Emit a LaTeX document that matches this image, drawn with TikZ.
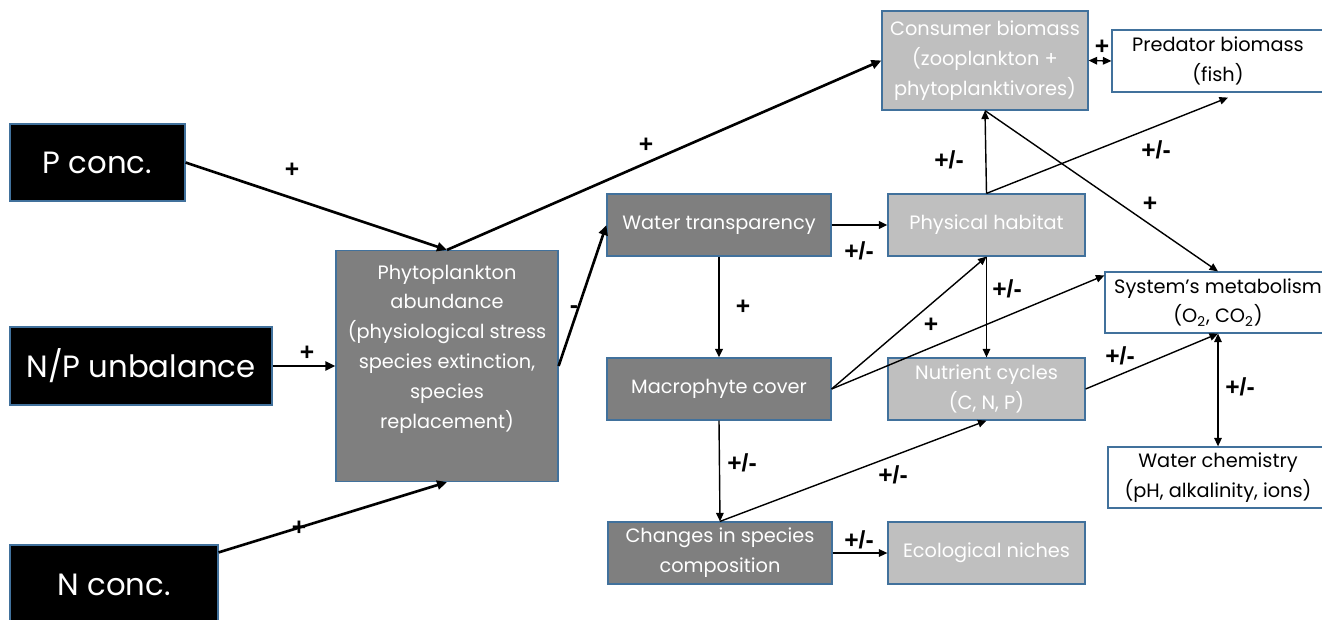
\documentclass[tikz,border=0pt]{standalone}
\usepackage{fontspec}
\setmainfont{Poppins}
\newfontfamily\signfont{Liberation Sans}
\usepackage{xcolor}
\usepackage{tikz}
\usetikzlibrary{arrows.meta}

\definecolor{boxblue}{HTML}{41719C}
\definecolor{darkfill}{HTML}{7F7F7F}
\definecolor{lightfill}{HTML}{BFBFBF}

\begin{document}
\begin{tikzpicture}[x=0.02cm, y=-0.02cm,
  box/.style={draw=boxblue, line width=0.7pt, align=center, inner sep=0pt},
  blackbox/.style={box, fill=black, text=white, font=\fontsize{17.5}{21}\selectfont},
  darkbox/.style={box, fill=darkfill, text=white, font=\fontsize{11}{17}\selectfont},
  lightbox/.style={box, fill=lightfill, text=white, font=\fontsize{11}{17}\selectfont},
  whitebox/.style={box, fill=white, text=black, font=\fontsize{11}{17}\selectfont},
  bigarrow/.style={line width=1.5pt, -{Triangle[length=2mm, width=1.8mm]}},
  arrow/.style={line width=0.8pt, -{Triangle[length=1.7mm, width=1.5mm]}},
  twoarrow/.style={line width=0.8pt, {Triangle[length=1.7mm, width=1.5mm]}-{Triangle[length=1.7mm, width=1.5mm]}},
  sign/.style={font=\signfont\bfseries\fontsize{14}{16}\selectfont}]
  \useasboundingbox (0,0) rectangle (1322,619);
  \clip (0,0) rectangle (1322,619);

  % drivers
  \node[blackbox, minimum width=3.5cm, minimum height=1.54cm] (pconc) at (97.5,162.5) {P conc.};
  \node[blackbox, minimum width=5.24cm, minimum height=1.56cm] (npunb) at (141,366) {N/P unbalance};
  \node[blackbox, minimum width=4.16cm, minimum height=1.6cm] (nconc) at (114,585) {N conc.};

  % phytoplankton
  \node[darkbox, minimum width=4.44cm, minimum height=4.62cm] (phyto) at (447,366)
    {Phytoplankton\\abundance\\(physiological stress\\species extinction,\\species\\replacement)\\\strut};

  % middle column
  \node[darkbox, minimum width=4.48cm, minimum height=1.24cm] (transp) at (719,225) {Water transparency};
  \node[darkbox, minimum width=4.48cm, minimum height=1.24cm] (macro) at (719,389) {Macrophyte cover};
  \node[darkbox, minimum width=4.48cm, minimum height=1.24cm] (changes) at (720,553) {Changes in species\\composition};

  % right columns
  \node[lightbox, minimum width=4.12cm, minimum height=1.98cm] (consumer) at (985,60.5) {Consumer biomass\\(zooplankton +\\phytoplanktivores)};
  \node[lightbox, minimum width=3.94cm, minimum height=1.24cm] (habitat) at (986.5,225) {Physical habitat};
  \node[lightbox, minimum width=3.94cm, minimum height=1.24cm] (nutrient) at (986.5,389) {Nutrient cycles\\(C, N, P)};
  \node[lightbox, minimum width=3.94cm, minimum height=1.24cm] (niches) at (986.5,553) {Ecological niches};
  \node[whitebox, minimum width=4.24cm, minimum height=1.24cm] (predator) at (1218,61) {Predator biomass\\(fish)};
  \node[whitebox, minimum width=4.52cm, minimum height=1.22cm] (metab) at (1218,302.5) {System's metabolism\\(O\textsubscript{2}, CO\textsubscript{2})};
  \node[whitebox, minimum width=4.4cm, minimum height=1.22cm] (chem) at (1218,477.5) {Water chemistry\\(pH, alkalinity, ions)};

  % connectors
  \draw[bigarrow] (pconc.east) -- (phyto.north);
  \draw[bigarrow] (npunb.east) -- (phyto.west);
  \draw[bigarrow] ([yshift=-0.16cm]nconc.north east) -- (phyto.south);
  \draw[bigarrow] (phyto.north) -- (consumer.west);
  \draw[bigarrow] (phyto.east) -- (transp.west);
  \draw[arrow, line width=1.1pt] (transp.east) -- (habitat.west);
  \draw[arrow, line width=1.1pt] (transp.south) -- (macro.north);
  \draw[arrow] (macro.east) -- (habitat.south);
  \draw[arrow] (macro.east) -- ([yshift=-0.08cm]metab.north west);
  \draw[arrow] (habitat.south) -- (nutrient.north);
  \draw[arrow] (habitat.north) -- (consumer.south);
  \draw[arrow] (habitat.north) -- ([xshift=0.2cm, yshift=-0.1cm]predator.south);
  \draw[arrow] (consumer.south) -- (metab.north);
  \draw[arrow] (nutrient.east) -- (metab.south);
  \draw[twoarrow] (metab.south) -- (chem.north);
  \draw[twoarrow] (consumer.east) -- (predator.west);
  \draw[arrow] (macro.south) -- (changes.north);
  \draw[arrow] (changes.north) -- (nutrient.south);
  \draw[arrow] (changes.east) -- (niches.west);

  % signs
  \node[sign] (s1) at (292,170) {+};
  \node[sign] (s2) at (307,353) {+};
  \node[sign] (s3) at (299,528) {+};
  \node[sign] (s4) at (646,145) {+};
  \node[sign] (s5) at (574,310) {-};
  \node[sign] (s6) at (859,251) {+/-};
  \node[sign] (s7) at (743,307) {+};
  \node[sign] (s8) at (931,325) {+};
  \node[sign] (s9) at (1007,289) {+/-};
  \node[sign] (s10) at (949,160) {+/-};
  \node[sign] (s11) at (1156,150) {+/-};
  \node[sign] (s12) at (1150,204) {+};
  \node[sign] (s13) at (1120,356) {+/-};
  \node[sign] (s14) at (1240,387) {+/-};
  \node[sign] (s15) at (1102,47) {+};
  \node[sign] (s16) at (742,463) {+/-};
  \node[sign] (s17) at (893,475) {+/-};
  \node[sign] (s18) at (859,540) {+/-};
\end{tikzpicture}
\end{document}
